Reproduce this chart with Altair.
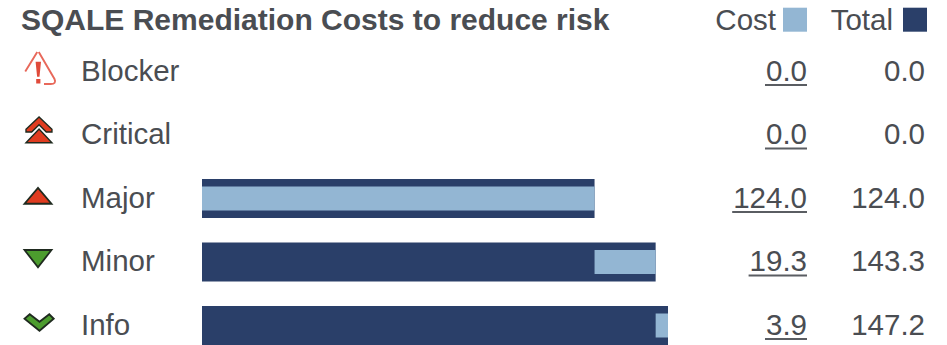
import altair as alt
import pandas as pd

title_text = "SQALE Remediation Costs to reduce risk"
levels = ["Blocker", "Critical", "Major", "Minor", "Info"]
costs = [0.0, 0.0, 124.0, 19.3, 3.9]
totals = [0.0, 0.0, 124.0, 143.3, 147.2]
cost_labels = ["0.0", "0.0", "124.0", "19.3", "3.9"]
total_labels = ["0.0", "0.0", "124.0", "143.3", "147.2"]

NAVY = "#2a3f69"
LIGHT = "#93b6d3"
INK = "#4a4d52"
FONT = "Liberation Sans"
FS = 29.5
COST_RIGHT = 807
TOTAL_RIGHT = 925
HEADER_ROW = 0.2

rows = pd.DataFrame({
    "row": range(1, len(levels) + 1),
    "level": levels,
    "cost": costs,
    "total": totals,
    "cost_label": cost_labels,
    "total_label": total_labels,
})
rows["start"] = rows["total"] - rows["cost"]
rows["zero"] = 0.0
# Underline width follows the digit advance of the label font
rows["u_start"] = [
    COST_RIGHT - ((len(s) - 1) * 0.556 + 0.278) * FS - 1 for s in cost_labels
]

y_enc = alt.Y(
    "row:Q",
    axis=None,
    scale=alt.Scale(domain=[1, 5], range=[71.5, 325.5], zero=False, nice=False, padding=0),
)
x_scale = alt.Scale(domain=[0, 147.2], range=[202, 668])
base = alt.Chart(rows)

outer = base.mark_bar(size=39, color=NAVY, orient="horizontal").encode(
    x=alt.X("zero:Q", axis=None, scale=x_scale), x2="total:Q", y=y_enc
)
inner = base.mark_bar(size=24, color=LIGHT, orient="horizontal").encode(
    x=alt.X("start:Q", axis=None, scale=x_scale), x2="total:Q", y=y_enc
)


def column(field, x, align="right"):
    return base.mark_text(
        align=align, baseline="middle", font=FONT, fontSize=FS, color=INK
    ).encode(x=alt.value(x), y=y_enc, text=f"{field}:N")


names = column("level", 81, align="left")
cost_col = column("cost_label", COST_RIGHT)
total_col = column("total_label", TOTAL_RIGHT)
underlines = base.mark_rule(color="#5a5d62", strokeWidth=2, yOffset=13.5).encode(
    x=alt.X("u_start:Q", axis=None, scale=None),
    x2=alt.value(COST_RIGHT),
    y=y_enc,
)

header = pd.DataFrame({"row": [HEADER_ROW], "title": [title_text], "cost": ["Cost"], "total": ["Total"]})
hbase = alt.Chart(header)
title = hbase.mark_text(
    align="left", baseline="middle", font=FONT, fontSize=30, fontWeight="bold", color=INK
).encode(x=alt.value(21), y=y_enc, text="title:N")
cost_head = hbase.mark_text(
    align="right", baseline="middle", font=FONT, fontSize=FS, color=INK
).encode(x=alt.value(776), y=y_enc, text="cost:N")
total_head = hbase.mark_text(
    align="right", baseline="middle", font=FONT, fontSize=FS, color=INK
).encode(x=alt.value(893), y=y_enc, text="total:N")
cost_swatch = hbase.mark_point(
    shape="square", size=576, filled=True, fill=LIGHT, opacity=1, strokeWidth=0, yOffset=-1
).encode(x=alt.value(795), y=y_enc)
total_swatch = hbase.mark_point(
    shape="square", size=576, filled=True, fill=NAVY, opacity=1, strokeWidth=0, yOffset=-1
).encode(x=alt.value(915), y=y_enc)

# Severity glyphs: unit paths, scaled so that 1 unit is 15 px
RED = "#e03c20"
GREEN = "#4c9c2e"
DARK = "#1f2a1f"
glyphs = [
    (1, "M-0.05 -1.3 L-0.85 0 M0.05 -1.3 L1.1 0.5 Q1.25 0.83 0.85 0.83 L0.4 0.83", None, "#e8685a", 1.9),
    (1, "M-0.16 -0.65 L0.2 -0.65 L0.1 0.35 L-0.06 0.35 Z M-0.12 0.5 L0.16 0.5 L0.16 0.8 L-0.12 0.8 Z", "#e04a3a", None, 0),
    (2, "M-0.8 -0.38 L0.07 -1.2 L0.93 -0.38 L0.93 -0.2 L0.55 -0.2 L0.07 -0.68 L-0.42 -0.2 L-0.8 -0.2 Z", RED, DARK, 1.4),
    (2, "M-0.8 0.52 L0.07 -0.4 L0.93 0.52 Z", RED, DARK, 1.4),
    (3, "M-0.9 0.35 L0 -0.7 L0.9 0.35 Z", RED, DARK, 1.8),
    (4, "M-0.9 -0.8 L0.9 -0.8 L0 0.35 Z", GREEN, DARK, 1.8),
    (5, "M-0.9 -0.45 L-0.55 -0.75 L0.1 -0.25 L0.75 -0.75 L1.05 -0.45 L0.1 0.35 Z", GREEN, DARK, 1.8),
]
glyph_layers = []
for row, path, fill, stroke, sw in glyphs:
    props = {"shape": path, "size": 900, "opacity": 1, "strokeWidth": sw}
    if fill:
        props["fill"] = fill
        props["filled"] = True
    else:
        props["filled"] = False
        props["fill"] = "transparent"
    if stroke:
        props["stroke"] = stroke
    glyph_layers.append(
        alt.Chart(pd.DataFrame({"row": [row]})).mark_point(**props).encode(
            x=alt.value(38), y=y_enc
        )
    )

chart = (
    alt.layer(
        outer, inner, names, cost_col, total_col, underlines,
        title, cost_head, total_head, cost_swatch, total_swatch,
        *glyph_layers,
    )
    .resolve_scale(x="independent")
    .properties(
        width=947,
        height=345,
        padding=0,
        background="white",
        autosize=alt.AutoSizeParams(type="none"),
    )
    .configure_view(stroke=None)
)

chart.save("out.html", embed_options={"renderer": "svg", "actions": False})
